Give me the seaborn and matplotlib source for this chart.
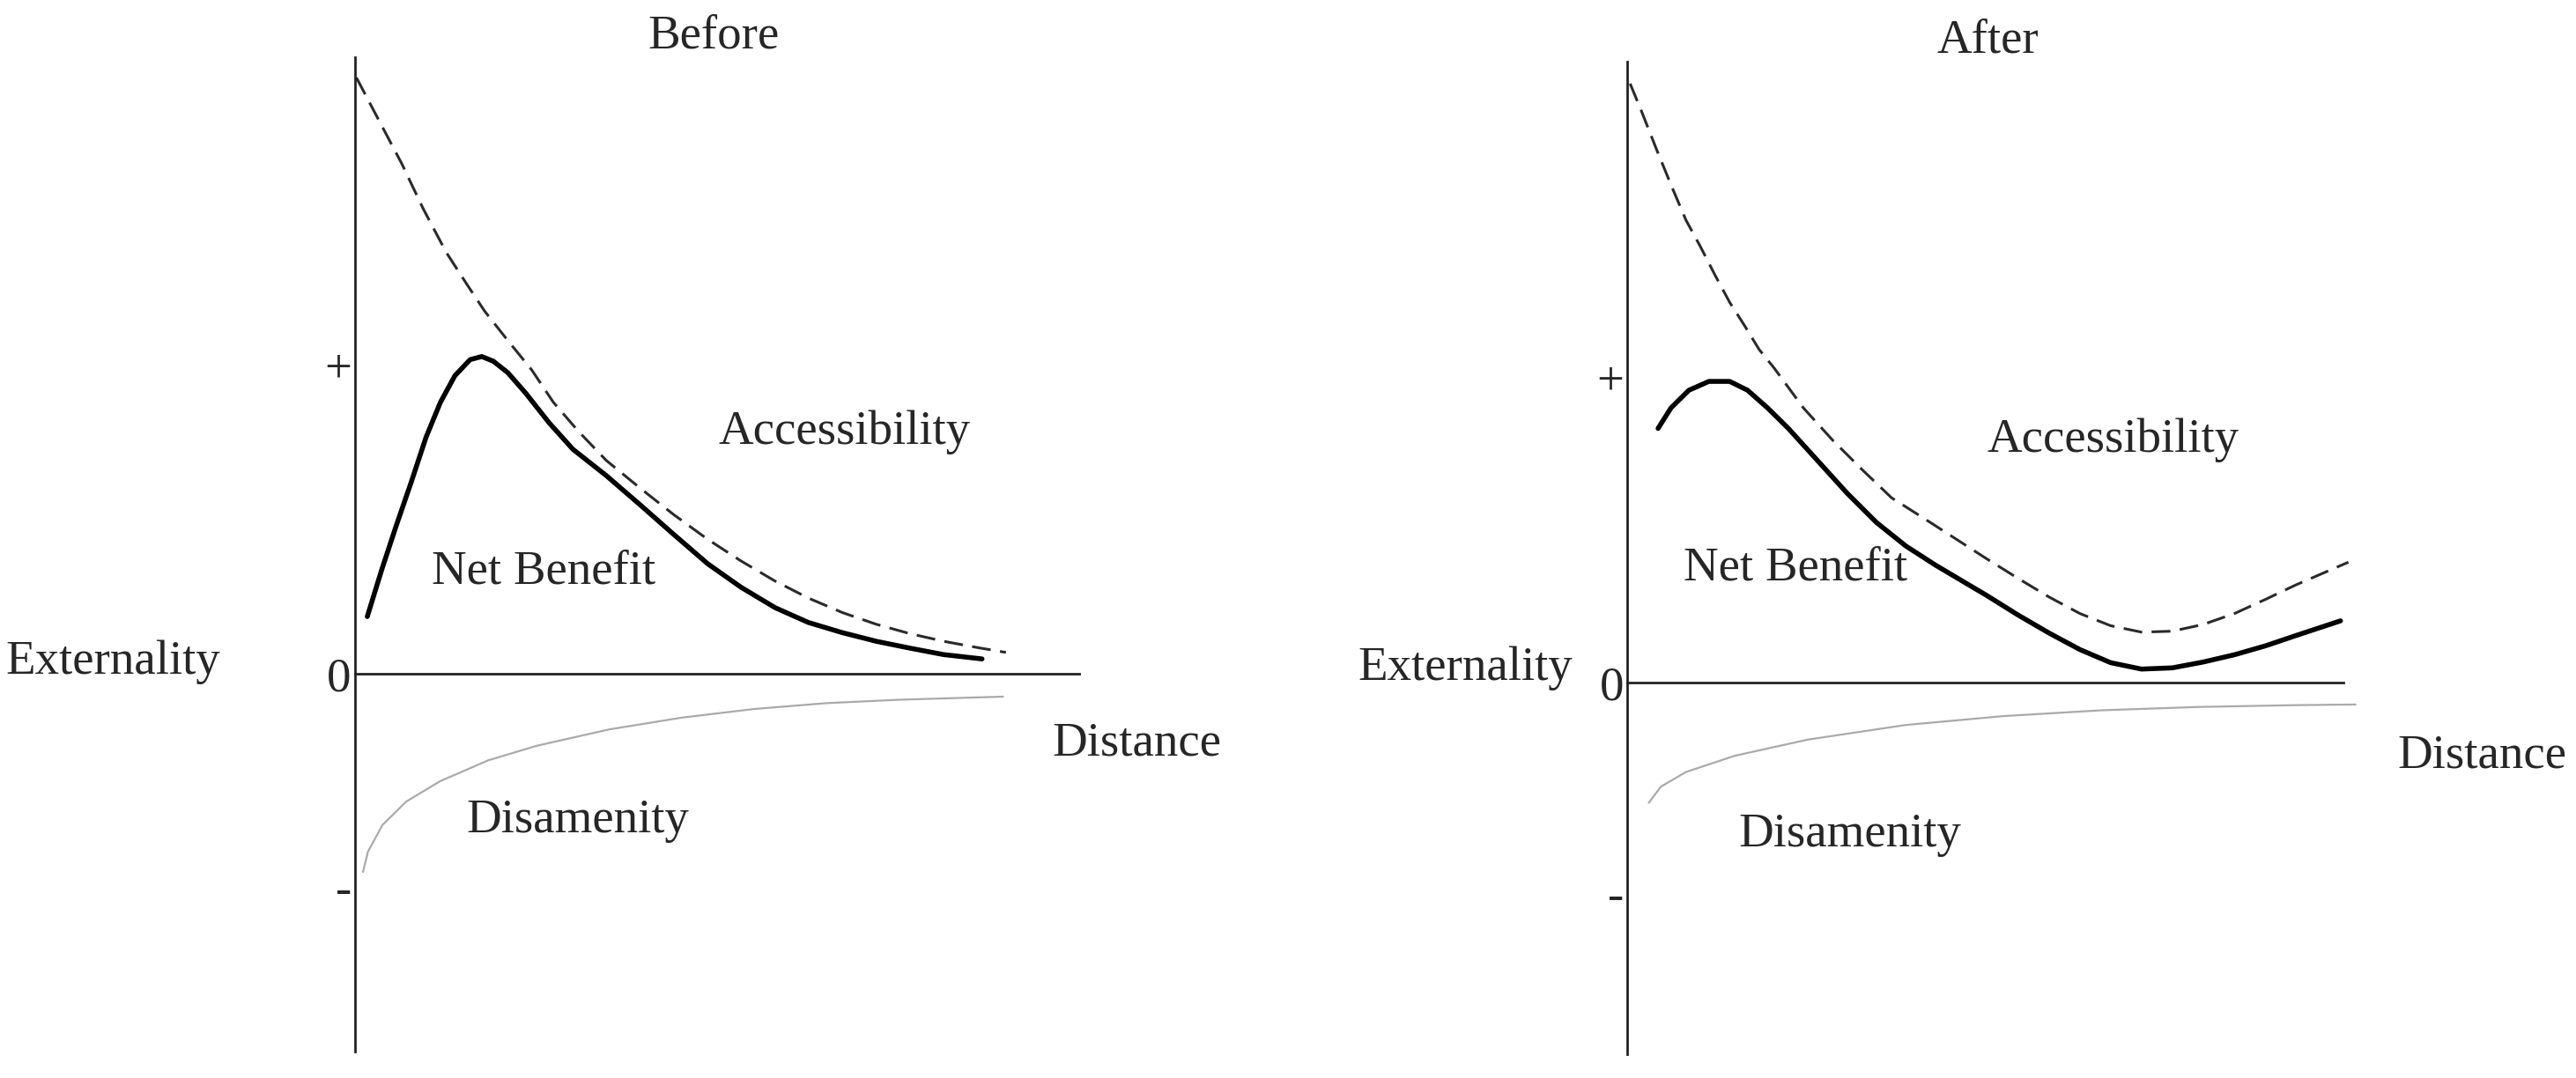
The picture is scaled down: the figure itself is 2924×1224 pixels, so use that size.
import numpy as np
import pandas as pd
import seaborn as sns
import matplotlib.pyplot as plt

# ---- values (distance 0-10, externality, "+" = 1) ----
# Before
b_acc_x = [0.02, 0.33, 0.65, 0.94, 1.26, 1.55, 1.79, 2.11, 2.44, 2.74, 3.09, 3.47,
           3.94, 4.40, 4.87, 5.33, 5.80, 6.26, 6.73, 7.20, 7.66, 8.13, 8.59, 8.99]
b_acc_y = [1.928, 1.790, 1.648, 1.505, 1.363, 1.258, 1.173, 1.078, 0.983, 0.878, 0.783, 0.690,
           0.600, 0.515, 0.435, 0.365, 0.300, 0.245, 0.198, 0.160, 0.130, 0.105, 0.085, 0.069]
b_net_x = [0.17, 0.37, 0.57, 0.78, 0.98, 1.18, 1.38, 1.59, 1.75, 1.91, 2.11, 2.36, 2.68,
           3.01, 3.47, 3.94, 4.40, 4.87, 5.33, 5.80, 6.26, 6.73, 7.20, 7.66, 8.13, 8.66]
b_net_y = [0.185, 0.337, 0.479, 0.622, 0.764, 0.878, 0.964, 1.016, 1.026, 1.011, 0.974, 0.907, 0.812,
           0.726, 0.641, 0.546, 0.451, 0.356, 0.280, 0.214, 0.166, 0.133, 0.105, 0.083, 0.062, 0.048]
b_dis_x = [0.11, 0.18, 0.38, 0.71, 1.18, 1.84, 2.51, 3.51, 4.51, 5.51, 6.51, 7.52, 8.95]
b_dis_y = [-0.641, -0.575, -0.489, -0.413, -0.347, -0.280, -0.233, -0.180, -0.142, -0.114,
           -0.095, -0.084, -0.074]

# After
a_acc_x = [0.04, 0.20, 0.41, 0.61, 0.82, 1.02, 1.23, 1.43, 1.64, 1.84, 2.05, 2.46, 2.87, 3.28,
           3.69, 4.16, 4.59, 5.02, 5.45, 5.89, 6.32, 6.75, 7.18, 7.61, 8.04, 8.48, 8.91, 9.34, 10.07]
a_acc_y = [1.961, 1.870, 1.745, 1.630, 1.514, 1.428, 1.332, 1.245, 1.168, 1.091, 1.030, 0.899,
           0.793, 0.697, 0.605, 0.535, 0.470, 0.405, 0.342, 0.280, 0.226, 0.186, 0.165, 0.168,
           0.190, 0.226, 0.272, 0.320, 0.394]
a_net_x = [0.43, 0.61, 0.86, 1.14, 1.43, 1.68, 1.96, 2.25, 2.66, 3.07, 3.48, 3.89, 4.30, 4.71,
           5.02, 5.45, 5.89, 6.32, 6.75, 7.18, 7.61, 8.04, 8.48, 8.91, 9.34, 9.96]
a_net_y = [0.832, 0.899, 0.957, 0.986, 0.986, 0.957, 0.899, 0.832, 0.726, 0.620, 0.524, 0.447,
           0.385, 0.328, 0.285, 0.222, 0.162, 0.108, 0.065, 0.044, 0.048, 0.067, 0.091, 0.120,
           0.154, 0.202]
a_dis_x = [0.30, 0.47, 0.82, 1.50, 2.52, 3.89, 5.25, 6.62, 7.98, 9.35, 10.17]
a_dis_y = [-0.394, -0.341, -0.293, -0.240, -0.187, -0.139, -0.110, -0.091, -0.080, -0.074, -0.072]

tick_pos = [1, 0, -0.69]
tick_labels = ['+', '0', '-']

sns.set_style('white')
plt.rcParams['font.family'] = ['Liberation Serif', 'DejaVu Serif']

fig = plt.figure(figsize=(29.24, 12.24), dpi=100)
ax1 = fig.add_axes([0.1378, 0.0245, 0.2811, 0.9224])
ax2 = fig.add_axes([0.6317, 0.0221, 0.2780, 0.9207])

fs = 39.5


def draw(ax, acc, net, dis, ylim):
    sns.lineplot(x=acc[0], y=acc[1], ax=ax, color='#2a2a2a', lw=2.2, sort=False, clip_on=False)
    ax.lines[-1].set_dashes([7, 3.5])
    sns.lineplot(x=net[0], y=net[1], ax=ax, color='black', lw=4.0, sort=False, clip_on=False)
    sns.lineplot(x=dis[0], y=dis[1], ax=ax, color='#aaaaaa', lw=1.6, sort=False, clip_on=False)
    ax.set_xlim(0, 10)
    ax.set_ylim(*ylim)
    for s in ['top', 'right']:
        ax.spines[s].set_visible(False)
    ax.spines['bottom'].set_position(('data', 0))
    for s in ['left', 'bottom']:
        ax.spines[s].set_color('#222222')
        ax.spines[s].set_linewidth(2.0)
    ax.set_xticks([])
    ax.set_yticks(tick_pos, tick_labels)
    ax.tick_params(axis='y', length=0, pad=3, labelsize=fs)
    ax.set_xlabel('')
    ax.set_ylabel('')


draw(ax1, (b_acc_x, b_acc_y), (b_net_x, b_net_y), (b_dis_x, b_dis_y), (-1.222, 1.994))
draw(ax2, (a_acc_x, a_acc_y), (a_net_x, a_net_y), (a_dis_x, a_dis_y), (-1.217, 2.033))

# labels
kw = dict(ha='center', va='center', fontsize=fs)
ax1.text(4.95, 2.023, 'Before', ha='center', va='baseline', fontsize=fs)
ax1.text(6.76, 0.782, 'Accessibility', **kw)
ax1.text(2.607, 0.33, 'Net Benefit', **kw)
ax1.text(3.08, -0.475, 'Disamenity', **kw)
ax1.text(-3.337, 0.038, 'Externality', **kw)
ax1.text(10.80, -0.227, 'Distance', **kw)

ax2.text(5.03, 2.062, 'After', ha='center', va='baseline', fontsize=fs)
ax2.text(6.78, 0.794, 'Accessibility', **kw)
ax2.text(2.354, 0.375, 'Net Benefit', **kw)
ax2.text(3.112, -0.497, 'Disamenity', **kw)
ax2.text(-2.256, 0.046, 'Externality', **kw)
ax2.text(11.94, -0.239, 'Distance', **kw)

fig.savefig('out.png', dpi=100, facecolor='white')
